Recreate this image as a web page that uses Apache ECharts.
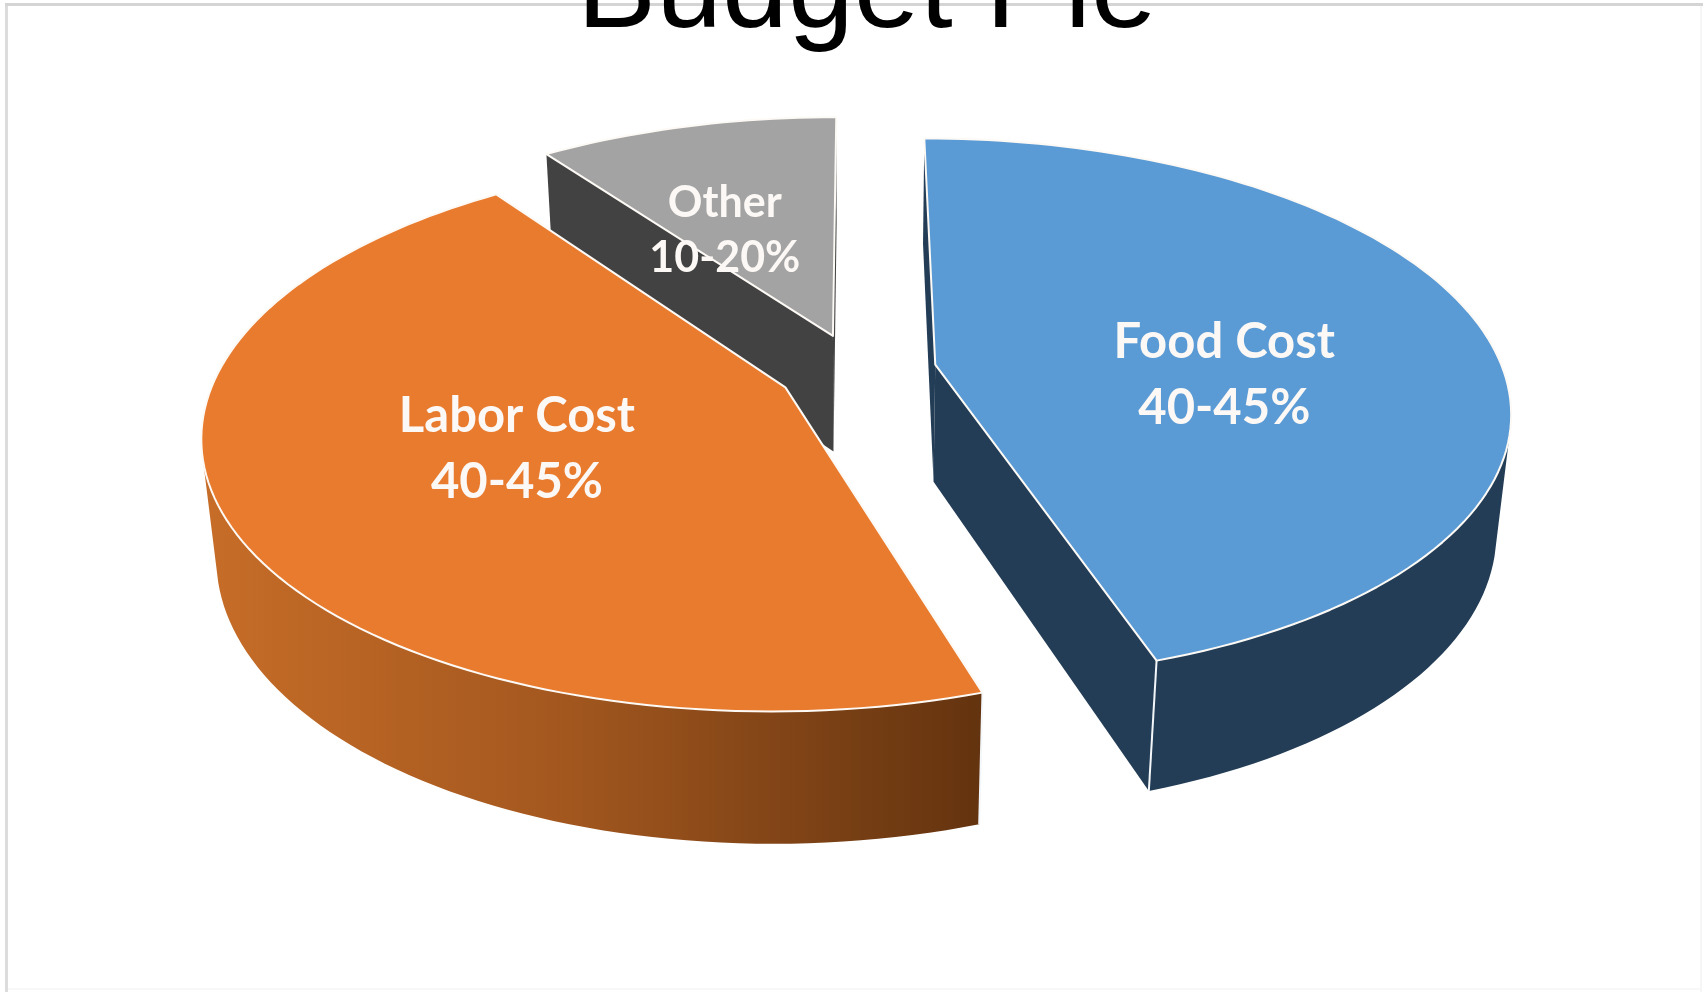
<!DOCTYPE html>
<html>
<head>
<meta charset="utf-8">
<title>Budget Pie</title>
<style>
  html, body { margin: 0; padding: 0; background: #fff; }
  #chart { width: 1703px; height: 992px; }
</style>
<script src="https://cdn.jsdelivr.net/npm/echarts@6/dist/echarts.min.js"></script>
</head>
<body>
<div id="chart"></div>
<script>
// Budget shares, in percent of the whole pie
const categories = ['Food Cost', 'Labor Cost', 'Other'];
const shareValues = [45, 45, 10];
const rangeLabels = ['40-45%', '40-45%', '10-20%'];

// Per-slice styling
const topColors = ['#5b9bd5', '#e97b2f', '#a3a3a3'];
const wallColors = ['#233d56', null, '#424242'];
const labelSizes = [49, 49, 43];
const labelLineHeights = [66, 66, 55];
const labelNudges = [[14, 31], [0, -2], [-30, 7]];
const paintLayers = [100, 100, 0];

// Camera: a unit disc lying flat, seen in perspective from above
const START_ANGLE = 0;        // degrees clockwise from the back of the pie
const EXPLODE = 0.14;         // slice offset along its bisector, in disc radii
const CENTER_X = 857;
const CENTER_Y = 370.4;
const SCALE_X = 568;
const SCALE_Y = 264.9;
const TILT = 0.1635;          // depth foreshortening across the disc
const THICKNESS_Y = 120;      // drop of the lower face
const THICKNESS_FAR = 0.0225; // shrink of the lower face
const RIM_FROM = 105;         // the outer wall faces the viewer in this angle range
const RIM_TO = 255;
const ARC_STEP = 1.5;

const rad = d => d * Math.PI / 180;

function project(u, v, lower) {
  const w = 1 - TILT * v + (lower ? THICKNESS_FAR : 0);
  return [
    CENTER_X + SCALE_X * u / w,
    CENTER_Y + (SCALE_Y * v + (lower ? THICKNESS_Y : 0)) / w
  ];
}

function sliceAngles(index) {
  const total = shareValues.reduce((a, b) => a + b, 0);
  const before = shareValues.slice(0, index).reduce((a, b) => a + b, 0);
  const from = START_ANGLE + 360 * before / total;
  return [from, from + 360 * shareValues[index] / total];
}

function arc(ox, oz, from, to, lower) {
  const pts = [];
  const steps = Math.max(1, Math.ceil((to - from) / ARC_STEP));
  for (let i = 0; i <= steps; i++) {
    const a = rad(from + (to - from) * i / steps);
    pts.push(project(ox + Math.sin(a), oz - Math.cos(a), lower));
  }
  return pts;
}

const orangeWall = {
  type: 'linear', global: true, x: 200, y: 0, x2: 985, y2: 0,
  colorStops: [
    { offset: 0, color: '#c76d28' },
    { offset: 0.45, color: '#a4581f' },
    { offset: 1, color: '#63330f' }
  ]
};

function renderSlice(params, api) {
  const i = params.dataIndex;
  api.value(0);
  const [from, to] = sliceAngles(i);
  const mid = rad((from + to) / 2);
  const ox = EXPLODE * Math.sin(mid);
  const oz = -EXPLODE * Math.cos(mid);
  const layer = paintLayers[i];
  const wall = wallColors[i] || orangeWall;
  const children = [];
  const poly = (points, style, z2) => children.push({
    type: 'polygon', shape: { points }, style, z2: layer + z2, silent: true
  });

  // straight cut faces
  [from, to].forEach(angle => {
    const a = rad(angle);
    const eu = ox + Math.sin(a), ev = oz - Math.cos(a);
    poly([project(ox, oz, false), project(eu, ev, false), project(eu, ev, true), project(ox, oz, true)],
      { fill: wall }, 1);
  });

  // curved outer wall, only where it turns toward the viewer
  const rimA = Math.max(from, RIM_FROM);
  const rimB = Math.min(to, RIM_TO);
  if (rimB > rimA) {
    const upper = arc(ox, oz, rimA, rimB, false);
    const lower = arc(ox, oz, rimA, rimB, true).reverse();
    poly(upper.concat(lower), { fill: wall }, 2);
    // white seam where a cut face meets the outer wall
    [[from, rimA], [to, rimB]].forEach(([cut, rimEnd]) => {
      if (cut !== rimEnd) return;
      const a = rad(cut);
      const eu = ox + Math.sin(a), ev = oz - Math.cos(a);
      const p = project(eu, ev, false), q = project(eu, ev, true);
      children.push({
        type: 'line', silent: true, z2: layer + 3,
        shape: { x1: p[0], y1: p[1], x2: q[0], y2: q[1] },
        style: { stroke: '#f4f7fa', lineWidth: 2 }
      });
    });
  }

  // flat top of the slice
  const top = [project(ox, oz, false)].concat(arc(ox, oz, from, to, false));
  poly(top, { fill: topColors[i], stroke: '#fdfaf6', lineWidth: 2, lineJoin: 'round' }, 4);

  // label, centred halfway along the bisector
  const at = project(ox + 0.5 * Math.sin(mid), oz - 0.5 * Math.cos(mid), false);
  children.push({
    type: 'text', silent: true, z2: 1000,
    x: at[0] + labelNudges[i][0],
    y: at[1] + labelNudges[i][1],
    style: {
      text: categories[i] + '\n' + rangeLabels[i],
      fill: '#fbf8f5',
      font: '700 ' + labelSizes[i] + 'px Lato',
      lineHeight: labelLineHeights[i],
      align: 'center',
      verticalAlign: 'middle'
    }
  });
  return { type: 'group', children };
}

const chart = echarts.init(document.getElementById('chart'), null, { renderer: 'canvas' });
chart.setOption({
  backgroundColor: '#ffffff',
  animation: false,
  title: {
    text: 'Budget Pie',
    left: 862,
    top: -70,
    textAlign: 'center',
    textStyle: {
      fontFamily: '"Liberation Sans"',
      fontSize: 118.5,
      fontWeight: 'normal',
      color: '#000000'
    }
  },
  graphic: [
    { type: 'rect', z: -1, silent: true, shape: { x: 5, y: 3, width: 3, height: 989 }, style: { fill: '#dcdcdc' } },
    { type: 'rect', z: -1, silent: true, shape: { x: 5, y: 3, width: 1698, height: 3 }, style: { fill: '#d4d4d4' } },
    { type: 'rect', z: -1, silent: true, shape: { x: 1700, y: 6, width: 2, height: 986 }, style: { fill: '#f6f6f6' } },
    { type: 'rect', z: -1, silent: true, shape: { x: 8, y: 988, width: 1692, height: 2 }, style: { fill: '#f8f8f8' } }
  ],
  series: [{
    type: 'custom',
    coordinateSystem: 'none',
    renderItem: renderSlice,
    data: shareValues.map((value, i) => ({ name: categories[i], value: [value] }))
  }]
});
</script>
</body>
</html>
